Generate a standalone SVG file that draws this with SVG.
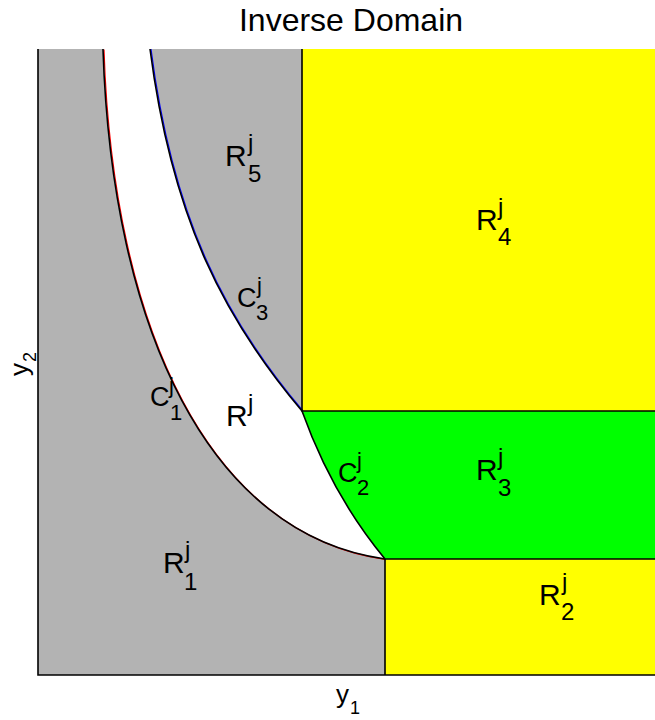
<svg xmlns="http://www.w3.org/2000/svg" width="655" height="720" viewBox="0 0 655 720">
<style>
text{font-family:"Liberation Sans",Arial,sans-serif;fill:#000}
.t{font-size:32px}
.R{font-size:30px}
.C{font-size:27px}
.s{font-size:24px}
.sc{font-size:22px}
.ax{font-size:26px}
.axs{font-size:18px}
.bl{fill:none;stroke:#000;stroke-width:1.6}
</style>
<rect width="655" height="720" fill="#fff"/>
<g id="regions">
<rect id="gray" x="38" y="49" width="347" height="626" fill="#b3b3b3"/>
<rect id="R4" x="302" y="49" width="353" height="362" fill="#ffff00"/>
<rect id="R2" x="385" y="559" width="270" height="116" fill="#ffff00"/>
<path id="R3" d="M302,411 L655,411 L655,559 L385,559 Q332,495 302,411 Z" fill="#00ff00"/>
<path id="Rj" d="M103,49 C112,330 210,535 385,559 Q332,495 302,411 C225,320 172,220 150,49 Z" fill="#fff"/>
</g>
<g id="connectors">
<path transform="translate(1,0.6)" d="M103,49 C112,330 210,535 385,559" fill="none" stroke="#ff0000" stroke-width="1.2"/>
<path class="bl" d="M103,49 C112,330 210,535 385,559"/>
<path d="M151,49 C173,220 226,320 303,411" fill="none" stroke="#0000ff" stroke-width="1.2"/>
<path class="bl" d="M150,49 C172,220 225,320 302,411"/>
<path d="M303,411 Q333,495 386,559" fill="none" stroke="#00ff00" stroke-width="1.2"/>
<path class="bl" d="M302,411 Q332,495 385,559"/>
<path class="bl" d="M302,49 L302,411 L655,411 M385,675 L385,559 L655,559"/>
<path class="bl" d="M38,49 L38,675 L655,675"/>
</g>
<text class="t" x="351" y="31" text-anchor="middle">Inverse Domain</text>
<g id="axis-x"><text class="ax" x="336" y="703">y</text><text class="axs" x="350" y="714">1</text></g>
<g id="axis-y" transform="translate(28,376) rotate(-90)"><text class="ax" x="0" y="0">y</text><text class="axs" x="14" y="8">2</text></g>
<g id="lab-R5"><text class="R" x="225" y="166">R</text><text class="s" x="248" y="151">j</text><text class="s" x="248" y="182">5</text></g>
<g id="lab-R4"><text class="R" x="476" y="230">R</text><text class="s" x="498" y="215">j</text><text class="s" x="498" y="245">4</text></g>
<g id="lab-R3"><text class="R" x="476" y="480">R</text><text class="s" x="498" y="465">j</text><text class="s" x="498" y="496">3</text></g>
<g id="lab-R2"><text class="R" x="539" y="605">R</text><text class="s" x="562" y="590">j</text><text class="s" x="561" y="620">2</text></g>
<g id="lab-R1"><text class="R" x="163" y="573">R</text><text class="s" x="185" y="558">j</text><text class="s" x="184" y="590">1</text></g>
<g id="lab-Rj"><text class="R" x="226" y="426">R</text><text class="s" x="248" y="411">j</text></g>
<g id="lab-C1"><text class="C" x="150" y="406">C</text><text class="sc" x="169" y="393">j</text><text class="sc" x="170" y="420">1</text></g>
<g id="lab-C3"><text class="C" x="237" y="307">C</text><text class="sc" x="257" y="293">j</text><text class="sc" x="256" y="320">3</text></g>
<g id="lab-C2"><text class="C" x="338" y="482">C</text><text class="sc" x="357" y="468">j</text><text class="sc" x="357" y="495">2</text></g>
</svg>
